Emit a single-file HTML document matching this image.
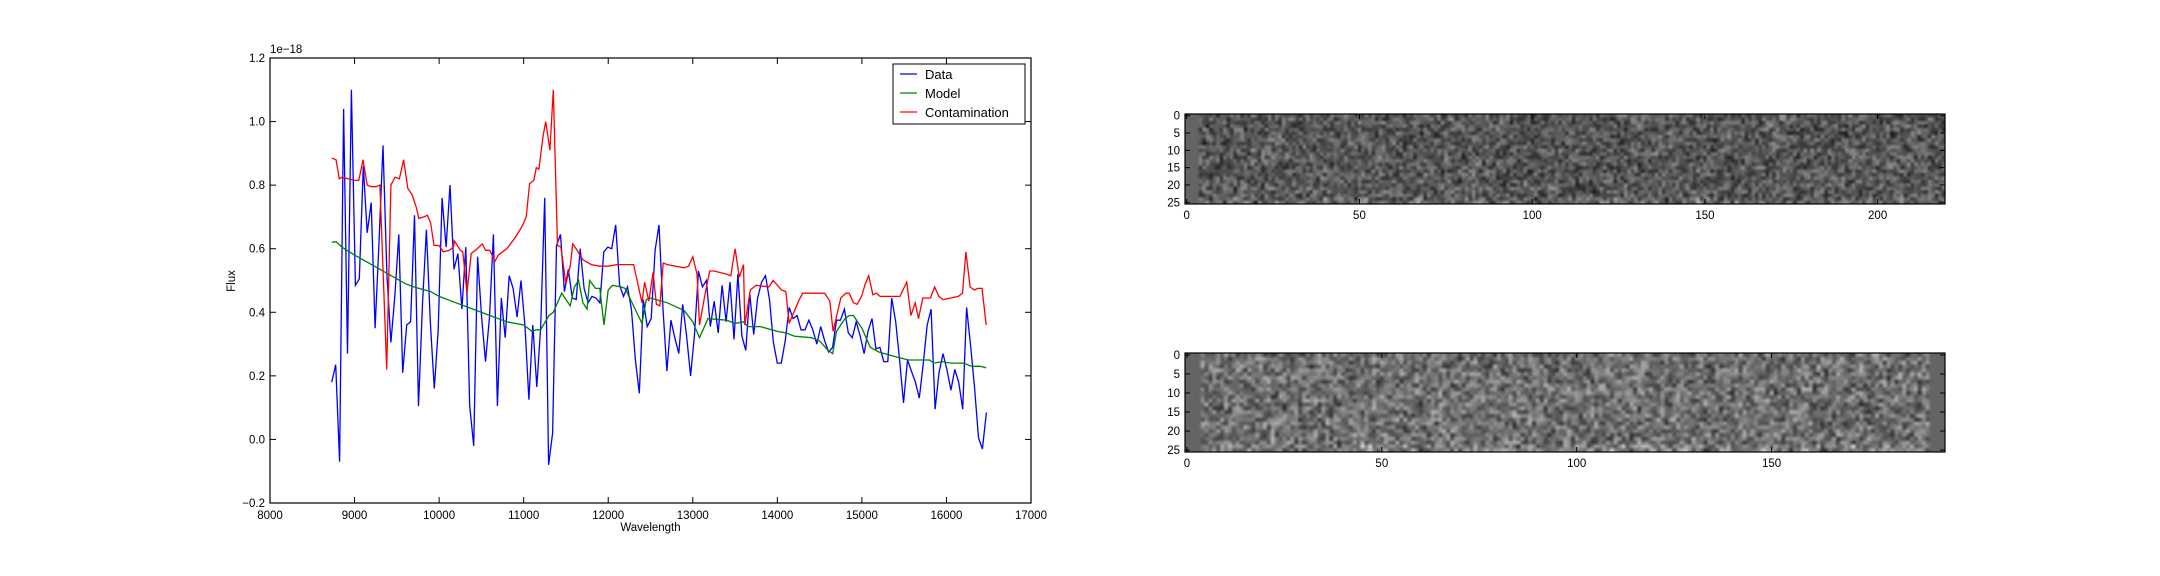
<!DOCTYPE html>
<html><head><meta charset="utf-8"><style>
html,body{margin:0;padding:0;background:#fff;}
#root{position:relative;width:2160px;height:576px;overflow:hidden;font-family:"Liberation Sans",sans-serif;}
svg{position:absolute;left:0;top:0;}
canvas{position:absolute;}
</style></head><body>
<div id="root">
<svg id="chart" width="2160" height="576"></svg>
<canvas id="img1"></canvas>
<canvas id="img2"></canvas>
<svg id="imgaxes" width="2160" height="576"></svg>
</div>
<script>
// ---- data ----
const wlStart = 8730, wlEnd = 16472;
const dataFlux = [0.18,0.235,-0.07,1.04,0.27,1.10,0.485,0.505,0.86,0.65,0.745,0.35,0.62,0.925,0.52,0.305,0.45,0.645,0.21,0.36,0.37,0.705,0.105,0.42,0.66,0.37,0.16,0.345,0.76,0.605,0.80,0.535,0.585,0.41,0.605,0.105,-0.02,0.575,0.385,0.245,0.385,0.645,0.105,0.445,0.32,0.515,0.475,0.385,0.5,0.355,0.125,0.36,0.165,0.355,0.76,-0.08,0.02,0.61,0.645,0.465,0.535,0.445,0.44,0.6,0.475,0.43,0.45,0.445,0.43,0.59,0.605,0.6,0.675,0.485,0.45,0.48,0.41,0.25,0.145,0.44,0.355,0.38,0.595,0.675,0.41,0.215,0.375,0.32,0.27,0.425,0.325,0.2,0.33,0.53,0.48,0.5,0.355,0.435,0.335,0.485,0.37,0.495,0.315,0.52,0.325,0.28,0.46,0.33,0.445,0.495,0.515,0.44,0.305,0.24,0.24,0.31,0.415,0.38,0.39,0.345,0.345,0.375,0.345,0.3,0.355,0.31,0.275,0.29,0.375,0.375,0.41,0.335,0.32,0.37,0.325,0.27,0.34,0.38,0.285,0.29,0.245,0.245,0.445,0.37,0.25,0.115,0.25,0.215,0.18,0.13,0.24,0.36,0.41,0.095,0.21,0.27,0.22,0.155,0.22,0.18,0.095,0.415,0.295,0.165,0.005,-0.03,0.085];
const modelWl = [8730,8780,8850,9000,9200,9400,9600,9700,9900,10000,10200,10400,10600,10800,11000,11100,11150,11200,11300,11350,11450,11550,11600,11650,11700,11750,11780,11850,11900,11950,12000,12050,12150,12200,12300,12400,12450,12500,12700,12900,13000,13080,13180,13400,13500,13600,13650,13800,14000,14100,14200,14400,14500,14600,14655,14700,14800,14850,14900,15000,15100,15200,15400,15550,15700,15800,15850,15950,16050,16200,16300,16400,16470];
const modelFlux = [0.62,0.622,0.605,0.58,0.55,0.52,0.49,0.48,0.465,0.45,0.43,0.41,0.39,0.37,0.36,0.34,0.345,0.345,0.39,0.4,0.46,0.42,0.48,0.5,0.43,0.41,0.5,0.475,0.475,0.36,0.47,0.485,0.48,0.475,0.42,0.365,0.44,0.445,0.43,0.405,0.37,0.32,0.38,0.375,0.365,0.37,0.355,0.355,0.34,0.335,0.325,0.32,0.31,0.28,0.27,0.34,0.38,0.39,0.39,0.35,0.29,0.275,0.26,0.25,0.25,0.25,0.24,0.245,0.24,0.24,0.23,0.23,0.225];
const contWl = [8730,8780,8820,8850,9000,9050,9100,9150,9200,9250,9300,9380,9430,9480,9530,9580,9630,9680,9730,9760,9820,9860,9900,9940,10000,10050,10120,10170,10180,10250,10280,10330,10380,10450,10510,10550,10600,10660,10700,10800,10900,10980,11030,11070,11120,11150,11180,11230,11260,11310,11350,11400,11440,11500,11550,11580,11620,11700,11800,11900,12000,12100,12300,12400,12430,12480,12530,12570,12610,12650,12700,12900,12950,13000,13050,13080,13150,13200,13250,13400,13450,13500,13550,13600,13615,13680,13750,13900,13950,14050,14100,14140,14250,14300,14560,14620,14660,14750,14810,14850,14900,14945,14995,15040,15080,15130,15170,15215,15350,15450,15530,15580,15630,15670,15720,15810,15860,15910,15960,16140,16190,16230,16280,16330,16370,16420,16470];
const contFlux = [0.885,0.88,0.82,0.825,0.815,0.815,0.88,0.8,0.795,0.795,0.8,0.22,0.8,0.825,0.82,0.88,0.79,0.77,0.73,0.695,0.7,0.705,0.68,0.61,0.61,0.59,0.595,0.605,0.625,0.595,0.59,0.46,0.585,0.6,0.615,0.595,0.595,0.56,0.58,0.6,0.635,0.67,0.7,0.805,0.815,0.855,0.85,0.955,1.0,0.91,1.1,0.61,0.605,0.49,0.545,0.615,0.6,0.565,0.55,0.545,0.545,0.55,0.55,0.43,0.495,0.435,0.525,0.425,0.42,0.555,0.55,0.54,0.545,0.575,0.52,0.36,0.465,0.53,0.53,0.52,0.515,0.6,0.51,0.55,0.36,0.47,0.485,0.48,0.5,0.47,0.465,0.365,0.435,0.46,0.46,0.435,0.34,0.445,0.46,0.46,0.43,0.425,0.45,0.49,0.515,0.455,0.46,0.45,0.45,0.45,0.495,0.39,0.43,0.38,0.445,0.445,0.48,0.45,0.44,0.45,0.46,0.59,0.48,0.47,0.475,0.475,0.36];
const xTicks = [8000,9000,10000,11000,12000,13000,14000,15000,16000,17000];
const yTicks = [-0.2,0.0,0.2,0.4,0.6,0.8,1.0,1.2];
const yTickLabels = ["\u22120.2","0.0","0.2","0.4","0.6","0.8","1.0","1.2"];

const NS="http://www.w3.org/2000/svg";
function mk(parent,tag,attrs){const e=document.createElementNS(NS,tag);for(const k in attrs)e.setAttribute(k,attrs[k]);parent.appendChild(e);return e;}
const svg=document.getElementById('chart');
const L=270,R=1031,T=58,B=503;
const xS=v=>L+(v-8000)/9000*(R-L);
const yS=v=>B-(v+0.2)/1.4*(B-T);

const clip=mk(svg,'clipPath',{id:'plotclip'});mk(clip,'rect',{x:L,y:T,width:R-L,height:B-T});
function line(xs,ys,color,name){
  const d=xs.map((x,i)=>(i?'L':'M')+xS(x).toFixed(1)+','+yS(ys[i]).toFixed(1)).join('');
  const p=mk(svg,'path',{d:d,fill:'none',stroke:color,'stroke-width':1.3,'clip-path':'url(#plotclip)'});
  
  
}
const wlStep=(wlEnd-wlStart)/(dataFlux.length-1);
const dataWl=dataFlux.map((_,i)=>wlStart+i*wlStep);
line(dataWl,dataFlux,'#0000ff','data-line');
line(modelWl,modelFlux,'#008000','model-line');
line(contWl,contFlux,'#ff0000','contamination-line');

const frame=mk(svg,'rect',{x:L,y:T,width:R-L,height:B-T,fill:'none',stroke:'#000','stroke-width':1.2});

xTicks.forEach(v=>{const x=xS(v);
  mk(svg,'line',{x1:x,x2:x,y1:B,y2:B-6,stroke:'#000'});mk(svg,'line',{x1:x,x2:x,y1:T,y2:T+6,stroke:'#000'});
  const t=mk(svg,'text',{x:x,y:B+16,'font-size':11.5,'text-anchor':'middle'});t.textContent=v;
  });
yTicks.forEach((v,i)=>{const y=yS(v);
  mk(svg,'line',{x1:L,x2:L+6,y1:y,y2:y,stroke:'#000'});mk(svg,'line',{x1:R,x2:R-6,y1:y,y2:y,stroke:'#000'});
  const t=mk(svg,'text',{x:L-5,y:y+4,'font-size':11.5,'text-anchor':'end'});t.textContent=yTickLabels[i];
  });
let t=mk(svg,'text',{x:L,y:T-5,'font-size':11.5});t.textContent='1e\u221218';

t=mk(svg,'text',{x:(L+R)/2,y:531,'font-size':11.5,'text-anchor':'middle'});t.textContent='Wavelength';

t=mk(svg,'text',{x:0,y:0,'font-size':11.5,'text-anchor':'middle',transform:'translate(235,281) rotate(-90)'});t.textContent='Flux';

// legend
const lg=mk(svg,'g',{});
mk(lg,'rect',{x:893,y:64,width:132,height:60,fill:'#fff',stroke:'#000','stroke-width':1});
[['Data','#0000ff'],['Model','#008000'],['Contamination','#ff0000']].forEach((e,i)=>{
  const y=74+i*19;
  mk(lg,'line',{x1:900,x2:917,y1:y,y2:y,stroke:e[1],'stroke-width':1.3});
  const tt=mk(lg,'text',{x:925,y:y+5,'font-size':13});tt.textContent=e[0];
  
});

// ---- images ----
function hash(i,j,s){let h=(i*374761393+j*668265263+s*982451653)|0;h=(h^(h>>>13))*1274126177|0;h=h^(h>>>16);return ((h>>>0)%10000)/10000;}
function drawImg(id,x0,y0,w,h,nc,mean,amp,seed,padL,padR){
  const c=document.getElementById(id);c.width=w;c.height=h;c.style.left=x0+'px';c.style.top=y0+'px';
  const src=document.createElement('canvas');src.width=nc;src.height=26;const sc=src.getContext('2d');
  const im=sc.createImageData(nc,26);
  for(let j=0;j<26;j++)for(let i=0;i<nc;i++){
    let v=mean+(hash(i,j,seed)+hash(i+1,j,seed+7)-1)*amp;
    if(j>=24)v+=(hash(i,j,seed+3)-0.3)*70;
    if(i<padL||i>=nc-padR)v=100;
    v=Math.max(0,Math.min(255,v));const k=(j*nc+i)*4;
    im.data[k]=im.data[k+1]=im.data[k+2]=v;im.data[k+3]=255;}
  sc.putImageData(im,0,0);
  const cx=c.getContext('2d');cx.imageSmoothingEnabled=true;cx.drawImage(src,0,0,w,h);
}
const I1={L:1185,R:1945,T:114,B:204,n:220};
const I2={L:1185,R:1945,T:353,B:452,n:195};
drawImg('img1',I1.L,I1.T,I1.R-I1.L,I1.B-I1.T,I1.n,88,70,11,4,0);
drawImg('img2',I2.L,I2.T,I2.R-I2.L,I2.B-I2.T,I2.n,112,80,23,4,4);
const ia=document.getElementById('imgaxes');
const img1Ticks=[0,50,100,150,200], img2Ticks=[0,50,100,150], rowTicks=[0,5,10,15,20,25];
function imgAxes(P,xt,name){
  const W=P.R-P.L,H=P.B-P.T;
  const fx=v=>P.L+(v+0.5)/P.n*W, fy=v=>P.T+(v+0.5)/26*H;
  const r=mk(ia,'rect',{x:P.L,y:P.T,width:W,height:H,fill:'none',stroke:'#000','stroke-width':1.2});
  
  xt.forEach(v=>{const x=fx(v);mk(ia,'line',{x1:x,x2:x,y1:P.B,y2:P.B-5,stroke:'#000'});mk(ia,'line',{x1:x,x2:x,y1:P.T,y2:P.T+5,stroke:'#000'});
    const tt=mk(ia,'text',{x:x,y:P.B+15,'font-size':11.5,'text-anchor':'middle'});tt.textContent=v;
    });
  rowTicks.forEach(v=>{const y=fy(v);mk(ia,'line',{x1:P.L,x2:P.L+5,y1:y,y2:y,stroke:'#000'});mk(ia,'line',{x1:P.R,x2:P.R-5,y1:y,y2:y,stroke:'#000'});
    const tt=mk(ia,'text',{x:P.L-5,y:y+4,'font-size':11.5,'text-anchor':'end'});tt.textContent=v;
    });
}
imgAxes(I1,img1Ticks,'top-image');
imgAxes(I2,img2Ticks,'bottom-image');
</script>
</body></html>
